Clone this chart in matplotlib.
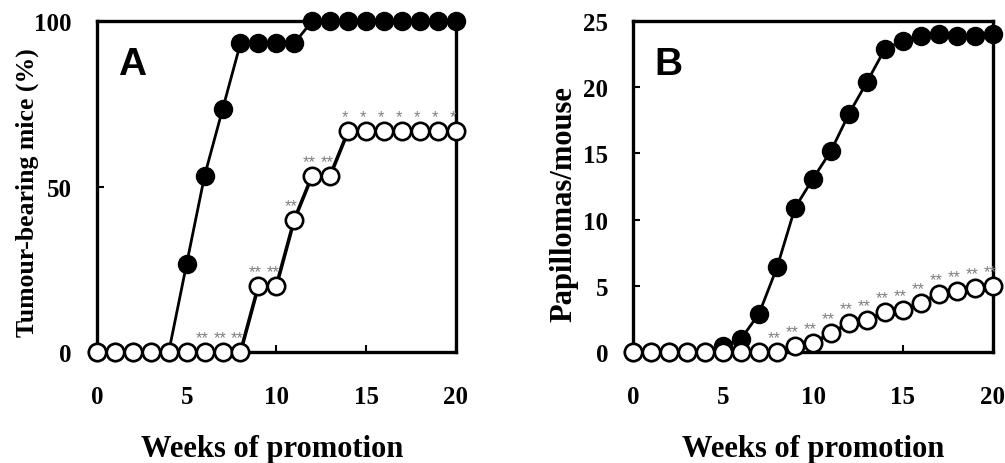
# two-panel tumour chart: incidence (A) and multiplicity (B)
import matplotlib
matplotlib.use("Agg")
import matplotlib.pyplot as plt

weeks = list(range(0, 21))

# panel A, % tumour-bearing mice
a_filled = [0, 0, 0, 0, 0, 26.7, 53.3, 73.3, 93.3, 93.3, 93.3, 93.3,
            100, 100, 100, 100, 100, 100, 100, 100, 100]
a_open = [0, 0, 0, 0, 0, 0, 0, 0, 0, 20, 20, 40, 53.3, 53.3,
          66.7, 66.7, 66.7, 66.7, 66.7, 66.7, 66.7]
# significance marks above the open series
a_stars = ["", "", "", "", "", "", "**", "**", "**", "**", "**", "**",
           "**", "**", "*", "*", "*", "*", "*", "*", "*"]

# panel B, papillomas per mouse
b_filled = [0, 0, 0, 0, 0, 0.45, 1.0, 2.9, 6.4, 10.9, 13.1, 15.2, 18.0,
            20.4, 22.9, 23.5, 23.9, 24.0, 23.9, 23.9, 24.0]
b_open = [0, 0, 0, 0, 0, 0, 0, 0, 0, 0.45, 0.7, 1.4, 2.2, 2.4, 3.05,
          3.2, 3.7, 4.4, 4.6, 4.8, 5.0]
b_stars = [""] * 8 + ["**"] * 13

SERIF = "Liberation Serif"
SANS = "Liberation Sans"
TICK_FS = 18


def draw_panel(ax, filled, opened, stars, ymax, yticks, ylabel, ylab_y,
               ylab_fs, xlab_x, letter):
    ax.plot(weeks, filled, color="black", lw=2.0, marker="o", ms=12.5,
            mfc="black", mec="black", mew=1.5, clip_on=False, zorder=3)
    ax.plot(weeks, opened, color="black", lw=2.6, marker="o", ms=12.5,
            mfc="white", mec="black", mew=1.9, clip_on=False, zorder=4)

    for x, y, s in zip(weeks, opened, stars):
        if not s:
            continue
        ax.annotate(s, (x, y), xytext=(-2, 5), textcoords="offset points",
                    ha="center", va="bottom", fontsize=12, color="#808080",
                    family=SANS, annotation_clip=False, zorder=5)

    ax.set_xlim(0, 20)
    ax.set_ylim(0, ymax)
    ax.set_xticks([0, 5, 10, 15, 20])
    ax.set_yticks(yticks)
    ax.tick_params(direction="in", length=5, width=1.5, labelsize=TICK_FS)
    ax.tick_params(axis="x", pad=24)
    ax.tick_params(axis="y", pad=18)
    for lab in ax.get_xticklabels() + ax.get_yticklabels():
        lab.set_family(SERIF)
        lab.set_fontweight("bold")
    for sp in ax.spines.values():
        sp.set_linewidth(2.4)

    ax.set_xlabel("Weeks of promotion", family=SERIF, fontweight="bold",
                  fontsize=22, va="center")
    ax.xaxis.set_label_coords(xlab_x, -0.29)
    ax.set_ylabel(ylabel, family=SERIF, fontweight="bold", fontsize=ylab_fs,
                  va="center")
    ax.yaxis.set_label_coords(-0.193, ylab_y)
    ax.text(0.06, 0.87, letter, transform=ax.transAxes, family=SANS,
            fontweight="bold", fontsize=28, ha="left", va="center")


def main():
    fig = plt.figure(figsize=(10.05, 4.64), dpi=100)
    ax_a = fig.add_axes([0.0965, 0.2392, 0.357, 0.7134])
    ax_b = fig.add_axes([0.630, 0.2392, 0.358, 0.7134])

    draw_panel(ax_a, a_filled, a_open, a_stars, 100, [0, 50, 100],
               "Tumour-bearing mice (%)", 0.485, 18.5, 0.489, "A")
    draw_panel(ax_b, b_filled, b_open, b_stars, 25, [0, 5, 10, 15, 20, 25],
               "Papillomas/mouse", 0.45, 22, 0.5, "B")

    fig.savefig("out.png", dpi=100)


if __name__ == "__main__":
    main()
